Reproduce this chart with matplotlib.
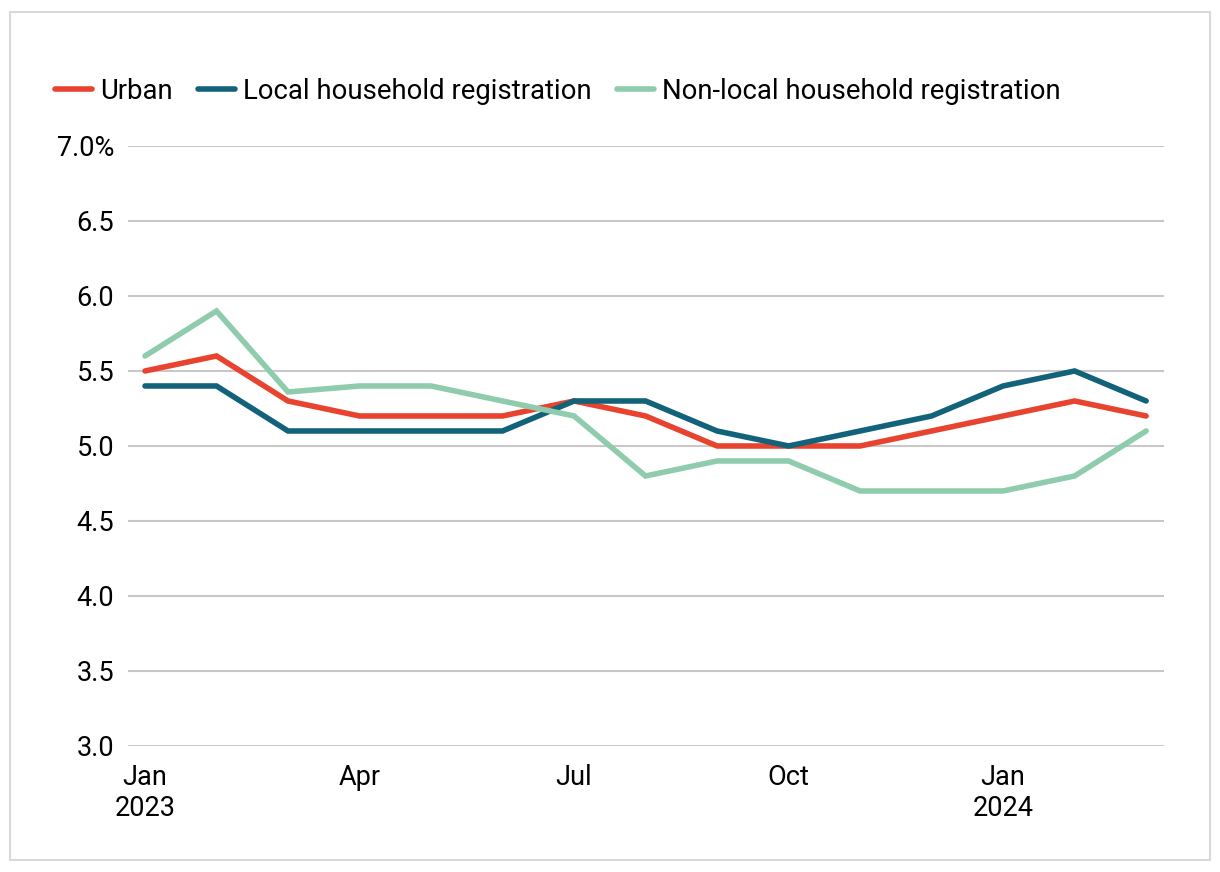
import numpy as np
import matplotlib.pyplot as plt
from matplotlib.patches import Rectangle

months = ['Jan\n2023', 'Feb', 'Mar', 'Apr', 'May', 'Jun', 'Jul', 'Aug', 'Sep',
          'Oct', 'Nov', 'Dec', 'Jan\n2024', 'Feb', 'Mar']
urban = [5.5, 5.6, 5.3, 5.2, 5.2, 5.2, 5.3, 5.2, 5.0, 5.0, 5.0, 5.1, 5.2, 5.3, 5.2]
local = [5.4, 5.4, 5.1, 5.1, 5.1, 5.1, 5.3, 5.3, 5.1, 5.0, 5.1, 5.2, 5.4, 5.5, 5.3]
non_local = [5.6, 5.9, 5.36, 5.4, 5.4, 5.3, 5.2, 4.8, 4.9, 4.9, 4.7, 4.7, 4.7, 4.8, 5.1]
yticks = [3.0, 3.5, 4.0, 4.5, 5.0, 5.5, 6.0, 6.5, 7.0]

plt.rcParams['font.family'] = ['Roboto', 'DejaVu Sans']

fig = plt.figure(figsize=(12.2, 8.72), dpi=100)
fig.patches.append(Rectangle((10 / 1220, 12 / 872), 1200 / 1220, 848 / 872,
                             transform=fig.transFigure, fill=False,
                             edgecolor='#d9d9d9', linewidth=1.5))
ax = fig.add_axes([0.1049, 0.1445, 0.8492, 0.6881])

x = np.arange(len(months))
series = [('Urban', urban, '#e8432e'),
          ('Local household registration', local, '#12627a'),
          ('Non-local household registration', non_local, '#8fcbad')]
for label, vals, c in series:
    ax.plot(x, vals, color=c, linewidth=4, label=label,
            solid_capstyle='round', solid_joinstyle='miter')

ax.set_xlim(-0.238, 14.25)
ax.set_ylim(3.0, 7.0)
ax.set_yticks(yticks)
ax.set_yticklabels(['7.0%' if t == 7.0 else f'{t:.1f}' for t in yticks])
ax.set_xticks([0, 3, 6, 9, 12])
ax.set_xticklabels([months[i] for i in [0, 3, 6, 9, 12]])
ax.tick_params(length=0, labelsize=19.5, colors='black')
ax.tick_params(axis='y', pad=10)
ax.tick_params(axis='x', pad=13)
ax.grid(axis='y', color='#c8c8c8', linewidth=1.5)
ax.set_axisbelow(True)
for s in ax.spines.values():
    s.set_visible(False)

fig.legend(loc='upper left', bbox_to_anchor=(0.025, 0.939), ncol=3, frameon=False,
           fontsize=19.8, handlelength=1.35, handletextpad=0.3, columnspacing=0.9)

fig.savefig('out.png', dpi=100)
